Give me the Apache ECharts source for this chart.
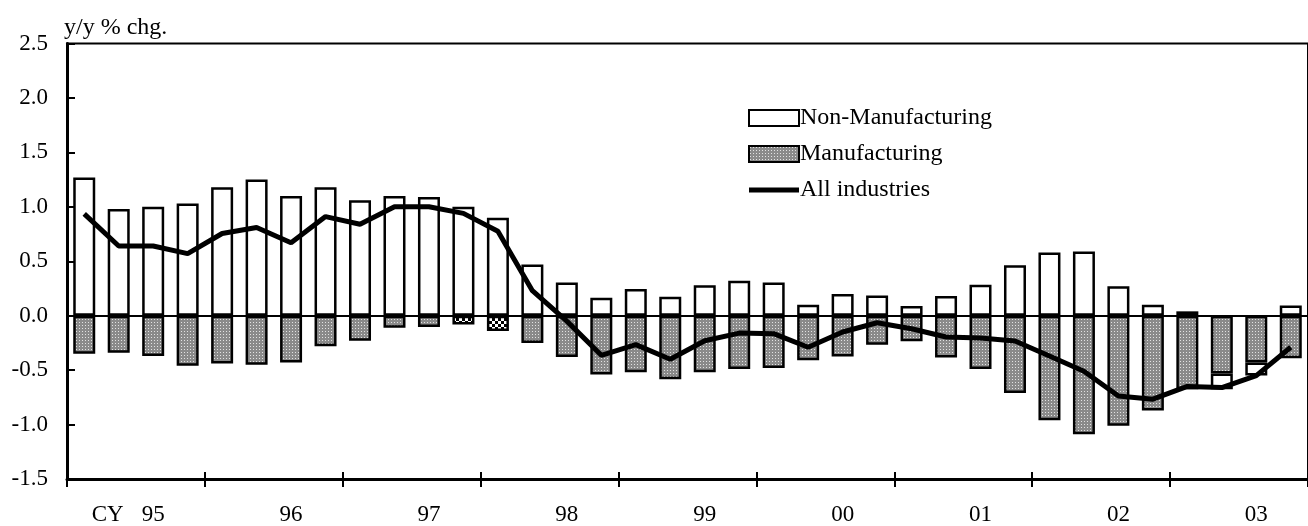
<!DOCTYPE html>
<html>
<head>
<meta charset="utf-8">
<script src="https://cdn.jsdelivr.net/npm/echarts@6/dist/echarts.min.js"></script>
<style>
html,body{margin:0;padding:0;background:#fff;}
#chart{width:1308px;height:526px;}
</style>
</head>
<body>
<div id="chart"></div>
<script>
// ---- data ----
const yearLabels = ['95','96','97','98','99','00','01','02','03'];
const quarters = [
 '95Q1','95Q2','95Q3','95Q4','96Q1','96Q2','96Q3','96Q4',
 '97Q1','97Q2','97Q3','97Q4','98Q1','98Q2','98Q3','98Q4',
 '99Q1','99Q2','99Q3','99Q4','00Q1','00Q2','00Q3','00Q4',
 '01Q1','01Q2','01Q3','01Q4','02Q1','02Q2','02Q3','02Q4',
 '03Q1','03Q2','03Q3','03Q4'
];
const nonManufacturing = [
 1.27,0.98,1.00,1.03, 1.18,1.25,1.10,1.18,
 1.06,1.10,1.09,1.00, 0.90,0.47,0.305,0.165,
 0.245,0.175,0.28,0.32, 0.305,0.10,0.20,0.186,
 0.09,0.18,0.284,0.464, 0.58,0.59,0.27,0.10,
 0.04,-0.145,-0.12,0.094
];
const manufacturing = [
 -0.35,-0.34,-0.37,-0.46, -0.44,-0.45,-0.43,-0.28,
 -0.23,-0.11,-0.105,-0.08, -0.14,-0.25,-0.38,-0.54,
 -0.52,-0.584,-0.52,-0.49, -0.48,-0.41,-0.375,-0.266,
 -0.235,-0.385,-0.49,-0.71, -0.96,-1.09,-1.01,-0.87,
 -0.675,-0.53,-0.43,-0.39
];
const allIndustries = [
 0.935,0.64,0.64,0.57, 0.755,0.81,0.67,0.91,
 0.84,1.00,1.00,0.94, 0.775,0.23,-0.05,-0.364,
 -0.266,-0.40,-0.23,-0.16, -0.165,-0.29,-0.15,-0.065,
 -0.12,-0.196,-0.205,-0.232, -0.37,-0.51,-0.737,-0.767,
 -0.65,-0.66,-0.55,-0.29
];
const checkerQuarters = ['97Q4','98Q1'];
const yTicks = {min:-1.5, max:2.5, step:0.5};

// ---- patterns ----
function dotPattern(){
  const c = document.createElement('canvas'); c.width = 3; c.height = 3;
  const g = c.getContext('2d');
  g.fillStyle = '#8a8a8a'; g.fillRect(0,0,3,3);
  g.fillStyle = '#e2e2e2'; g.fillRect(1,1,1,1);
  return {image:c, repeat:'repeat'};
}
function checkerPattern(){
  const c = document.createElement('canvas'); c.width = 6; c.height = 6;
  const g = c.getContext('2d');
  g.fillStyle = '#ffffff'; g.fillRect(0,0,6,6);
  g.fillStyle = '#000000'; g.fillRect(0,0,3,3); g.fillRect(3,3,3,3);
  return {image:c, repeat:'repeat'};
}
const dots = dotPattern();
const checker = checkerPattern();

const FONT = '"Liberation Serif", "Times New Roman", serif';
const chart = echarts.init(document.getElementById('chart'), null, {renderer:'canvas'});

const manufData = manufacturing.map((v,i)=> checkerQuarters.indexOf(quarters[i])>=0
  ? {value:v, itemStyle:{color:checker}} : v);

const catW = 34.9;
const option = {
  animation:false,
  backgroundColor:'#fff',
  textStyle:{fontFamily:FONT, color:'#000'},
  grid:{left:67, top:43.5, width:catW*quarters.length, height:436.5,
        show:true, borderColor:'#000', borderWidth:2, backgroundColor:'transparent'},
  legend:{
    orient:'vertical', left:743, top:101, itemWidth:50, itemHeight:16, itemGap:12,
    selectedMode:false,
    textStyle:{fontFamily:FONT, fontSize:24, color:'#000', padding:[0,0,0,-4]},
    data:[
      {name:'Non-Manufacturing', icon:'rect'},
      {name:'Manufacturing', icon:'rect'},
      {name:'All industries', icon:'path://M0,0L50,0L50,5L0,5Z',
       itemStyle:{color:'#000', borderWidth:0}}
    ]
  },
  xAxis:[{
    type:'category', data:quarters, position:'bottom', boundaryGap:true,
    axisLine:{show:true, onZero:false, lineStyle:{color:'#000', width:3}},
    axisTick:{show:true, interval:3, length:8, inside:false, lineStyle:{color:'#000', width:2}},
    axisLabel:{
      interval:(idx)=> idx%4===2, margin:24,
      fontFamily:FONT, fontSize:23, color:'#000',
      formatter:(val, idx)=>{
        const y = yearLabels[Math.floor(idx/4)];
        return idx===2 ? '{cy|CY}{n|'+y+'}{pad|}' : '{n|'+y+'}';
      },
      rich:{
        cy:{fontFamily:FONT, fontSize:23, color:'#000', width:50, align:'left'},
        n:{fontFamily:FONT, fontSize:23, color:'#000'},
        pad:{width:50}
      }
    },
    splitLine:{show:false}
  },{
    type:'category', data:quarters, position:'top', offset:-436.5, boundaryGap:true,
    axisLine:{show:false, onZero:false},
    axisTick:{show:true, interval:3, length:8, inside:false, lineStyle:{color:'#000', width:2}},
    axisLabel:{show:false}, splitLine:{show:false}
  }],
  yAxis:{
    type:'value', min:yTicks.min, max:yTicks.max, interval:yTicks.step,
    name:'y/y % chg.', nameLocation:'end', nameGap:4,
    nameTextStyle:{fontFamily:FONT, fontSize:24, color:'#000', align:'left', padding:[0,0,0,-3]},
    axisLine:{show:true, lineStyle:{color:'#000', width:3}},
    axisTick:{show:true, inside:true, length:8, lineStyle:{color:'#000', width:2}},
    axisLabel:{fontFamily:FONT, fontSize:23, color:'#000', margin:19,
               formatter:(v)=>v.toFixed(1)},
    splitLine:{show:false}
  },
  series:[
    {
      name:'Manufacturing', type:'bar', stack:'s', barWidth:22,
      data:manufData,
      itemStyle:{color:dots, borderColor:'#000', borderWidth:2.5},
      markLine:{silent:true, symbol:['none','none'], label:{show:false},
        lineStyle:{color:'#000', width:2, type:'solid'},
        data:[{yAxis:0}]}
    },
    {
      name:'Non-Manufacturing', type:'bar', stack:'s', barWidth:22,
      data:nonManufacturing,
      itemStyle:{color:'#fff', borderColor:'#000', borderWidth:2.5}
    },
    {
      name:'All industries', type:'line', data:allIndustries,
      symbol:'none', showSymbol:false, smooth:false, z:5,
      lineStyle:{color:'#000', width:5}, itemStyle:{color:'#000'}
    }
  ]
};
chart.setOption(option);
</script>
</body>
</html>
